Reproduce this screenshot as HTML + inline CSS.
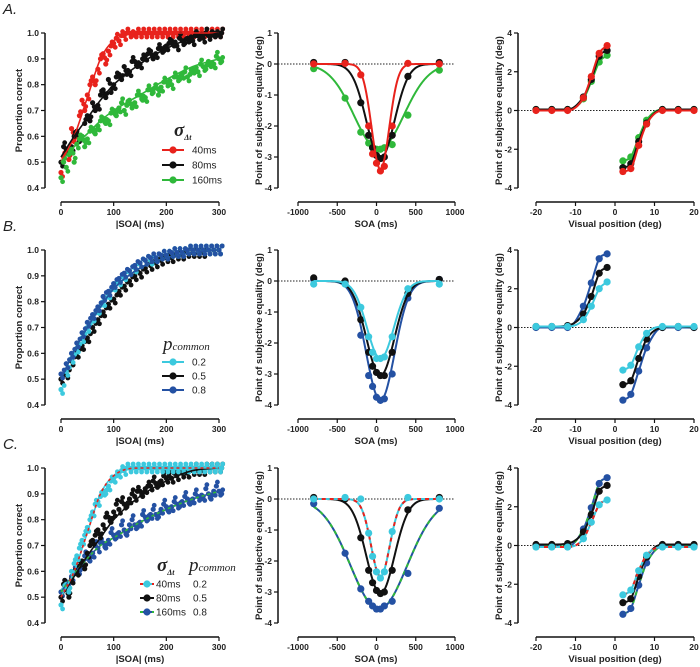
<!DOCTYPE html>
<html><head><meta charset="utf-8"><style>
html,body{margin:0;padding:0;background:#fff;}
svg{display:block;font-family:"Liberation Sans",Arial,sans-serif;}
.t{font-size:8.5px;font-weight:bold;fill:#222;}
.at{font-size:9.5px;font-weight:bold;fill:#222;}
.lg{font-size:10px;fill:#222;}
</style></head><body>
<svg id="fig" width="700" height="667" viewBox="0 0 700 667" xmlns="http://www.w3.org/2000/svg"></svg>
<script>
// ---------- DATA ----------
const soaX = [0,10,20,30,40,50,60,70,80,90,100,110,120,130,140,150,160,170,180,190,200,210,220,230,240,250,260,270,280,290,300];
const fitX = [0,25,50,75,100,150,200,250,300];
// Row A, left
const aRed   = [.46,.55,.63,.61,.74,.76,.83,.86,.92,.93,.96,.97,.99,1,1,1,1,1,1,1,1,1,1,1,1,1,1,1,1,1,1];
const aRed2  = [.52,.51,.58,.68,.70,.80,.80,.90,.88,.95,.98,.99,1,.99,1,1,1,1,1,1,1,1,1,1,1,1,1,1,1,1,1];
const aBlack = [.50,.55,.56,.62,.60,.68,.73,.72,.78,.82,.80,.84,.87,.85,.89,.88,.91,.93,.92,.94,.95,.97,.95,.97,.98,.97,.99,.98,.99,1,1];
const aBlack2= [.56,.53,.60,.58,.65,.66,.70,.76,.75,.77,.83,.82,.84,.89,.87,.90,.92,.90,.94,.93,.96,.95,.98,.96,.97,.99,.98,1,.99,.99,1];
const aGreen = [.44,.48,.55,.57,.60,.59,.63,.64,.67,.66,.70,.71,.70,.74,.73,.76,.75,.78,.80,.79,.81,.80,.83,.84,.83,.86,.85,.87,.89,.88,.90];
const aGreen2= [.50,.53,.50,.59,.56,.62,.61,.66,.65,.69,.68,.73,.72,.71,.76,.74,.78,.77,.76,.81,.80,.83,.82,.85,.84,.85,.88,.86,.87,.91,.89];
const aRedFit=[.5,.6,.75,.9,.97,1,1,1,1], aBlackFit=[.52,.6,.67,.74,.8,.88,.94,.98,1], aGreenFit=[.5,.56,.61,.66,.7,.76,.82,.87,.9];
// Row B, left
const bCyan  = [.46,.53,.58,.62,.66,.70,.74,.77,.80,.83,.86,.88,.90,.92,.93,.95,.96,.96,.97,.98,.98,.99,.99,.99,1,1,1,1,1,1,1];
const bBlack = [.50,.52,.57,.60,.63,.66,.70,.73,.76,.79,.81,.84,.86,.88,.90,.91,.93,.94,.95,.96,.97,.97,.98,.98,.99,.99,.99,.99,1,1,1];
const bBlue  = [.52,.56,.60,.64,.68,.72,.75,.78,.82,.84,.87,.89,.91,.92,.94,.95,.96,.97,.97,.98,.98,.99,.99,.99,1,1,1,1,1,1,1];
const bFit=[.5,.61,.7,.78,.85,.93,.97,.99,1];
// Row C, left
const cCyan  = [.47,.55,.60,.66,.72,.77,.83,.87,.91,.93,.96,.98,.99,1,1,1,1,1,1,1,1,1,1,1,1,1,1,1,1,1,1];
const cCyan2 = [.53,.52,.63,.69,.74,.80,.86,.89,.90,.95,.97,.99,1,1,1,1,1,1,1,1,1,1,1,1,1,1,1,1,1,1,1];
const cBlack = [.50,.53,.57,.60,.64,.67,.72,.76,.78,.81,.83,.84,.86,.88,.89,.91,.92,.93,.94,.95,.96,.96,.97,.98,.98,.99,.99,.99,1,1,1];
const cBlack2= [.55,.50,.59,.62,.61,.70,.74,.73,.81,.79,.86,.87,.85,.90,.91,.89,.93,.95,.93,.97,.97,.98,.99,.98,.99,1,.99,1,1,1,1];
const cBlue  = [.52,.56,.58,.61,.63,.66,.67,.69,.71,.72,.74,.75,.76,.78,.78,.79,.81,.82,.82,.84,.85,.85,.86,.87,.88,.88,.89,.89,.90,.91,.91];
const cBlue2 = [.55,.54,.60,.59,.66,.64,.70,.71,.69,.75,.73,.78,.74,.80,.77,.82,.80,.84,.81,.86,.83,.87,.85,.89,.86,.90,.88,.92,.88,.93,.90];
const cCyanFit=[.5,.6,.75,.9,.97,1,1,1,1], cBlackFit=[.5,.58,.66,.73,.8,.89,.95,.99,1], cBlueFit=[.52,.59,.65,.7,.73,.79,.84,.88,.91];
// Middle panels: points
const soaPts = [-800,-400,-200,-100,-50,0,50,100,200,400,800];
const aMidRed   = [0.0,0.02,-0.35,-2.0,-2.9,-3.2,-3.45,-3.3,-2.0,0.02,0.0];
const aMidBlack = [0.05,0.05,-1.25,-2.3,-2.7,-2.95,-3.05,-3.0,-2.3,-0.4,0.05];
const aMidGreen = [-0.15,-1.1,-2.2,-2.55,-2.7,-2.75,-2.75,-2.7,-2.6,-1.65,-0.2];
const bMidCyan  = [-0.1,-0.1,-0.85,-1.8,-2.3,-2.5,-2.5,-2.45,-1.8,-0.25,-0.1];
const bMidBlack = [0.1,0.0,-1.25,-2.3,-2.75,-2.95,-3.05,-3.05,-2.3,-0.4,0.05];
const bMidBlue  = [0.05,-0.05,-1.75,-3.05,-3.4,-3.75,-3.85,-3.8,-3.0,-0.55,0.05];
const cMidCyan  = [0.0,0.05,0.0,-1.1,-1.85,-2.35,-2.55,-2.35,-1.05,0.05,0.0];
const cMidBlack = [0.05,0.0,-1.25,-2.3,-2.7,-2.95,-3.05,-3.0,-2.3,-0.35,0.05];
const cMidBlue  = [-0.15,-1.75,-2.9,-3.3,-3.45,-3.55,-3.55,-3.45,-3.3,-2.4,-0.3];
// Middle panels: Gaussian fit parameters [amplitude, centre (ms), width (ms)]
const aFitRed=[-3.4,50,112], aFitBlack=[-3.05,50,178], aFitGreen=[-2.75,30,315];
const bFitCyan=[-2.5,50,170], bFitBlack=[-3.05,50,178], bFitBlue=[-3.85,50,180];
const cFitCyan=[-2.5,50,118], cFitBlack=[-3.05,50,178], cFitBlue=[-3.55,30,360];
// Right panels
const posL = [-20,-16,-12,-8,-6,-4,-2];
const posR = [2,4,6,8,12,16,20];
const aRL_red=[0,0,0,0.65,1.75,2.95,3.35], aRR_red=[-3.15,-3.0,-1.8,-0.7,0,0,0];
const aRL_black=[0.05,0.05,0.05,0.7,1.6,2.8,3.1], aRR_black=[-2.95,-2.75,-1.6,-0.65,0.05,0.05,0.05];
const aRL_green=[0.05,0.05,0.05,0.6,1.5,2.5,2.85], aRR_green=[-2.6,-2.4,-1.4,-0.5,0.05,0.05,0.05];
const bRL_cyan=[0.05,0.05,0.05,0.4,1.1,2.0,2.35], bRR_cyan=[-2.2,-1.95,-1.0,-0.3,0.05,0.05,0.05];
const bRL_black=[0.05,0.05,0.1,0.7,1.6,2.8,3.1], bRR_black=[-2.95,-2.75,-1.6,-0.6,0.0,0.05,0.0];
const bRL_blue=[0,0,0,1.1,2.3,3.55,3.8], bRR_blue=[-3.75,-3.45,-2.25,-1.05,0,0,0];
const cRL_cyan=[-0.08,-0.08,-0.08,0.35,1.2,2.1,2.35], cRR_cyan=[-2.55,-2.3,-1.3,-0.5,-0.08,-0.08,-0.08];
const cRL_black=[0.05,0.05,0.1,0.7,1.6,2.8,3.1], cRR_black=[-2.95,-2.75,-1.6,-0.6,0.05,0.05,0.05];
const cRL_blue=[-0.05,-0.05,-0.05,0.85,1.95,3.2,3.5], cRR_blue=[-3.55,-3.25,-2.05,-0.9,-0.05,-0.05,-0.05];

// ---------- DRAW ----------
const NS="http://www.w3.org/2000/svg";
const svg=document.getElementById('fig');
const RED="#e8221c",BLK="#111",GRN="#2fb83a",CYN="#3cc9de",BLU="#2451a3";
function el(tag,attrs,parent){const e=document.createElementNS(NS,tag);for(const k in attrs)e.setAttribute(k,attrs[k]);(parent||svg).appendChild(e);return e;}
function txt(s,x,y,cls,anchor,parent,rot){const t=el('text',{x:x,y:y,class:cls,'text-anchor':anchor||'middle'},parent);if(rot)t.setAttribute('transform','rotate(-90 '+x+' '+y+')');t.textContent=s;return t;}
function monoPath(xs,ys,sx,sy){
  const n=xs.length,d=[],m=[];
  for(let i=0;i<n-1;i++)d.push((ys[i+1]-ys[i])/(xs[i+1]-xs[i]));
  m[0]=d[0];m[n-1]=d[n-2];
  for(let i=1;i<n-1;i++)m[i]=(d[i-1]*d[i]<=0)?0:(d[i-1]+d[i])/2;
  for(let i=0;i<n-1;i++){if(d[i]===0){m[i]=0;m[i+1]=0;continue;}const a=m[i]/d[i],b=m[i+1]/d[i],s=a*a+b*b;if(s>9){const t=3/Math.sqrt(s);m[i]=t*a*d[i];m[i+1]=t*b*d[i];}}
  let p='M'+sx(xs[0])+','+sy(ys[0]);
  for(let i=0;i<n-1;i++){const h=xs[i+1]-xs[i];p+=' C'+sx(xs[i]+h/3)+','+sy(ys[i]+m[i]*h/3)+' '+sx(xs[i+1]-h/3)+','+sy(ys[i+1]-m[i+1]*h/3)+' '+sx(xs[i+1])+','+sy(ys[i+1]);}
  return p;}
function lin(d0,d1,r0,r1){return v=>r0+(v-d0)*(r1-r0)/(d1-d0);}

function axes(g,o){
  const ya=el('line',{x1:o.ax,y1:o.yTop,x2:o.ax,y2:o.yBot,stroke:'#111','stroke-width':1.5},g);
  
  o.yTicks.forEach(v=>{const y=o.sy(v);el('line',{x1:o.ax-4,y1:y,x2:o.ax,y2:y,stroke:'#111','stroke-width':1.2},g);const t=txt(o.yFmt(v),o.ax-6,y+3,'t','end',g);});
  const xa=el('line',{x1:o.sx(o.xTicks[0]),y1:o.xAxisY,x2:o.sx(o.xTicks[o.xTicks.length-1]),y2:o.xAxisY,stroke:'#111','stroke-width':1.5},g);
  
  o.xTicks.forEach(v=>{const x=o.sx(v);el('line',{x1:x,y1:o.xAxisY,x2:x,y2:o.xAxisY+4,stroke:'#111','stroke-width':1.2},g);const t=txt(String(v),x,o.xAxisY+13,'t','middle',g);});
  const xt=txt(o.xTitle,o.xTitleX,o.xAxisY+25,'at','middle',g);
  const yt=txt(o.yTitle,o.yTitleX,(o.yTop+o.yBot)/2,'at','middle',g,true);
  if(o.zero){const z=el('line',{x1:o.ax,y1:o.sy(0),x2:o.zeroEnd,y2:o.sy(0),stroke:'#222','stroke-width':1,'stroke-dasharray':'1.5,1.5'},g);}
}
function scatter(g,xs,ys,sx,sy,col,r,dx){xs.forEach((x,i)=>{const c=el('circle',{cx:sx(x+(dx||0)),cy:sy(ys[i]),r:r,fill:col},g);});}
function pathEl(g,d,col,dash,w){const p=el('path',{d:d,fill:'none',stroke:col,'stroke-width':w||2},g);if(dash)p.setAttribute('stroke-dasharray',dash);return p;}
function gaussPath(par,sx,sy){let d='';for(let x=-800;x<=800;x+=10){const y=par[0]*Math.exp(-Math.pow(x-par[1],2)/(2*par[2]*par[2]));d+=(d?' L':'M')+sx(x).toFixed(2)+','+sy(y).toFixed(2);}return d;}

const rowOff=[0,217,435];
const rows=[
 {label:'A.',left:[[aRed,aRed2,aRedFit,RED],[aBlack,aBlack2,aBlackFit,BLK],[aGreen,aGreen2,aGreenFit,GRN]],
  mid:[[aMidGreen,aFitGreen,GRN],[aMidBlack,aFitBlack,BLK],[aMidRed,aFitRed,RED]],
  right:[[aRL_green,aRR_green,GRN],[aRL_black,aRR_black,BLK],[aRL_red,aRR_red,RED]]},
 {label:'B.',left:[[bBlack,null,bFit,BLK],[bCyan,null,bFit,CYN],[bBlue,null,bFit,BLU]],
  mid:[[bMidBlue,bFitBlue,BLU],[bMidBlack,bFitBlack,BLK],[bMidCyan,bFitCyan,CYN]],
  right:[[bRL_blue,bRR_blue,BLU],[bRL_black,bRR_black,BLK],[bRL_cyan,bRR_cyan,CYN]]},
 {label:'C.',left:[[cBlue,cBlue2,cBlueFit,BLU,GRN],[cBlack,cBlack2,cBlackFit,BLK],[cCyan,cCyan2,cCyanFit,CYN,RED]],
  mid:[[cMidBlue,cFitBlue,BLU,GRN],[cMidBlack,cFitBlack,BLK],[cMidCyan,cFitCyan,CYN,RED]],
  right:[[cRL_blue,cRR_blue,BLU,GRN],[cRL_black,cRR_black,BLK],[cRL_cyan,cRR_cyan,CYN,RED]]}
];
rows.forEach((R,ri)=>{
  const oy=rowOff[ri];
  const g=el('g',{});
  const pl=txt(R.label,3,oy+14,'lg','start',g);pl.setAttribute('style','font-size:15px;font-style:italic');
  const gl=el('g',{},g);
  const sxL=lin(0,300,61,219),syL=lin(0.4,1.0,188+oy,33+oy);
  axes(gl,{ax:45,yTop:33+oy,yBot:188+oy,sy:syL,sx:sxL,yTicks:[0.4,0.5,0.6,0.7,0.8,0.9,1.0],yFmt:v=>v.toFixed(1),xTicks:[0,100,200,300],xAxisY:202+oy,xTitle:'|SOA| (ms)',xTitleX:140,yTitle:'Proportion correct',yTitleX:22});
  R.left.forEach(s=>{
    scatter(gl,soaX,s[0],sxL,syL,s[3],2.6,0);
    scatter(gl,soaX,s[0],sxL,v=>syL(v)+4,s[3],2.4,3);
    if(s[1]){scatter(gl,soaX,s[1],sxL,syL,s[3],2.6,5);scatter(gl,soaX,s[1],sxL,v=>syL(v)-4,s[3],2.4,7);}
    else scatter(gl,soaX,s[0],sxL,v=>syL(v)-4,s[3],2.4,6);
  });
  R.left.forEach(s=>{pathEl(gl,monoPath(fitX,s[2],sxL,syL),s[3],null,1.6);if(s[4])pathEl(gl,monoPath(fitX,s[2],sxL,syL),s[4],'3,3',1.6);});
  const gm=el('g',{},g);
  const sxM=lin(-1000,1000,298,455),syM=lin(1,-4,33+oy,188+oy);
  axes(gm,{ax:278,yTop:33+oy,yBot:188+oy,sy:syM,sx:sxM,yTicks:[1,0,-1,-2,-3,-4],yFmt:v=>String(v),xTicks:[-1000,-500,0,500,1000],xAxisY:202+oy,xTitle:'SOA (ms)',xTitleX:376,yTitle:'Point of subjective equality (deg)',yTitleX:262,zero:true,zeroEnd:455});
  R.mid.forEach(s=>{const d=gaussPath(s[1],sxM,syM);pathEl(gm,d,s[2],null,2);if(s[3])pathEl(gm,d,s[3],'4,4',2);scatter(gm,soaPts,s[0],sxM,syM,s[2],3.6,0);});
  const gr=el('g',{},g);
  const sxR=lin(-20,20,536,694),syR=lin(4,-4,33+oy,188+oy);
  axes(gr,{ax:518,yTop:33+oy,yBot:188+oy,sy:syR,sx:sxR,yTicks:[4,2,0,-2,-4],yFmt:v=>String(v),xTicks:[-20,-10,0,10,20],xAxisY:202+oy,xTitle:'Visual position (deg)',xTitleX:615,yTitle:'Point of subjective equality (deg)',yTitleX:502,zero:true,zeroEnd:696});
  R.right.forEach(s=>{[[posL,s[0]],[posR,s[1]]].forEach(b=>{const d=monoPath(b[0],b[1],sxR,syR);pathEl(gr,d,s[2],null,2);if(s[3])pathEl(gr,d,s[3],'4,4',2);scatter(gr,b[0],b[1],sxR,syR,s[2],3.6,0);});});
});

// ---------- LEGENDS ----------
function entry(x1,x2,y,col,dcol,label,name){const g=el('g',{});
  el('line',{x1:x1,y1:y,x2:x2,y2:y,stroke:col,'stroke-width':2},g);if(dcol)el('line',{x1:x1,y1:y,x2:x2,y2:y,stroke:dcol,'stroke-width':2,'stroke-dasharray':'3,3'},g);
  el('circle',{cx:(x1+x2)/2,cy:y,r:3.6,fill:col},g);label.forEach(l=>txt(l[0],l[1],y+3.5,'lg','start',g));}
function sigma(x,y){const t=el('text',{x:x,y:y,'font-family':'Liberation Serif,serif','font-style':'italic','font-weight':'bold','font-size':'19px',fill:'#222'});t.textContent='σ';const s=el('tspan',{'font-size':'8px',dy:'4'},t);s.textContent='Δt';}
function pc(x,y){const t=el('text',{x:x,y:y,'font-family':'Liberation Serif,serif','font-style':'italic','font-size':'19px',fill:'#222'});t.textContent='p';const s=el('tspan',{'font-size':'11px'},t);s.textContent='common';}
sigma(174,136);
entry(162,184,150,RED,null,[['40ms',192]],'legend-entry-40ms');
entry(162,184,165,BLK,null,[['80ms',192]],'legend-entry-80ms');
entry(162,184,180,GRN,null,[['160ms',192]],'legend-entry-160ms');
pc(163,350);
entry(162,184,362,CYN,null,[['0.2',192]],'legend-entry-0.2');
entry(162,184,376,BLK,null,[['0.5',192]],'legend-entry-0.5');
entry(162,184,390,BLU,null,[['0.8',192]],'legend-entry-0.8');
sigma(157,571);pc(189,571);
entry(140,154,584,CYN,RED,[['40ms',156],['0.2',193]],'legend-entry-40ms-0.2');
entry(140,154,598,BLK,null,[['80ms',156],['0.5',193]],'legend-entry-80ms-0.5');
entry(140,154,612,BLU,GRN,[['160ms',156],['0.8',193]],'legend-entry-160ms-0.8');
</script>
</body></html>
